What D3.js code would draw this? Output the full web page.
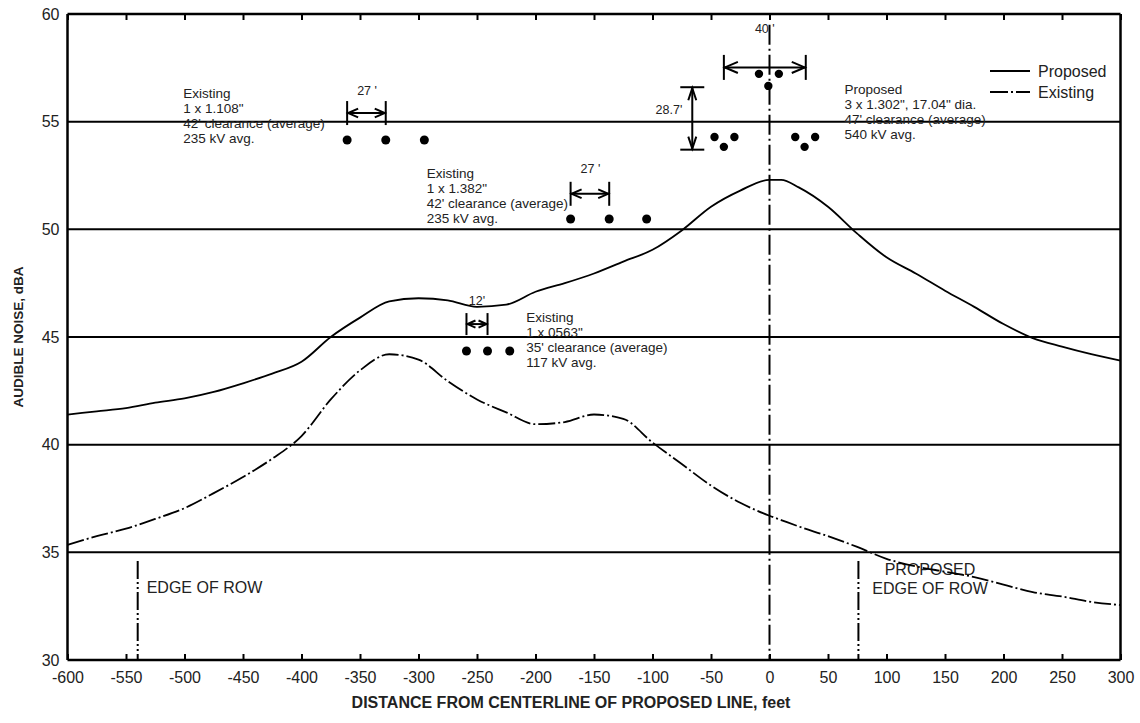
<!DOCTYPE html>
<html>
<head>
<meta charset="utf-8">
<script src="https://cdn.jsdelivr.net/npm/d3@7"></script>
<style>
  html, body { margin: 0; padding: 0; background: #fff; }
  svg { display: block; font-family: "Liberation Sans", Arial, sans-serif; }
</style>
</head>
<body>
<svg id="chart" width="1140" height="723"></svg>
<script>
// Distance from centerline of proposed line (feet) used for both noise profiles
const distance = [-600, -575, -550, -525, -500, -475, -450, -425, -400, -375, -350, -325, -300,
  -275, -250, -225, -200, -175, -150, -125, -100, -75, -50, -25, 0, 10, 25, 50, 75, 100, 125, 150,
  175, 200, 225, 250, 275, 300];

// Audible noise, dBA
const proposedDb = [41.4, 41.55, 41.7, 41.95, 42.15, 42.45, 42.85, 43.3, 43.85, 45.0, 45.9, 46.65, 46.8,
  46.7, 46.4, 46.5, 47.1, 47.5, 47.95, 48.5, 49.05, 49.95, 51.05, 51.8, 52.3, 52.3, 51.95, 51.05, 49.8,
  48.7, 47.95, 47.15, 46.4, 45.6, 44.95, 44.55, 44.2, 43.9];
const existingDb = [35.35, 35.75, 36.1, 36.55, 37.05, 37.75, 38.5, 39.35, 40.4, 42.1, 43.45, 44.2, 43.95,
  42.95, 42.1, 41.5, 40.95, 41.05, 41.4, 41.2, 40.1, 39.1, 38.1, 37.3, 36.7, 36.5, 36.2, 35.75, 35.25,
  34.7, 34.35, 34.1, 33.85, 33.5, 33.15, 32.95, 32.7, 32.55];

// Axis ticks
const xTicks = d3.range(-600, 301, 50);
const yTicks = [30, 35, 40, 45, 50, 55, 60];
const gridValues = [35, 40, 45, 50, 55];

// Conductor positions (feet, dBA scale used as height on the drawing)
const line1108X = [-361, -328, -295];
const line1108Y = [54.15, 54.15, 54.15];
const line1382X = [-170, -137, -105];
const line1382Y = [50.48, 50.48, 50.48];
const line0563X = [-259, -241, -222];
const line0563Y = [44.35, 44.35, 44.35];
const proposedX = [-9, 8, -1, -47, -30, -39, 22, 39, 30];
const proposedY = [57.22, 57.22, 56.66, 54.29, 54.29, 53.83, 54.29, 54.29, 53.83];

// Right-of-way edges and centerline (feet)
const rowEdges = [-540, 76];
const centerline = 0;

// Annotation blocks
const notes = [
  { x: -501, y: 56.1, lines: ["Existing", "1 x 1.108\"", "42' clearance (average)", "235 kV avg."] },
  { x: -293, y: 52.39, lines: ["Existing", "1 x 1.382\"", "42' clearance (average)", "235 kV avg."] },
  { x: -208, y: 45.7, lines: ["Existing", "1 x 0563\"", "35' clearance (average)", "117 kV avg."] },
  { x: 64, y: 56.29, lines: ["Proposed", "3 x 1.302\", 17.04\" dia.", "47' clearance (average)", "540 kV avg."] }
];

const svg = d3.select("#chart");
const x = d3.scaleLinear().domain([-600, 300]).range([67.5, 1120.5]);
const y = d3.scaleLinear().domain([30, 60]).range([660, 14]);
const ink = "#000";
const fmt = d => String(d);

// Horizontal grid lines
svg.append("g").selectAll("line").data(gridValues).join("line")
  .attr("x1", x(-600)).attr("x2", x(300))
  .attr("y1", d => y(d)).attr("y2", d => y(d))
  .attr("stroke", ink).attr("stroke-width", 2);

// Axes: ticks drawn inward on top and bottom
const axisB = d3.axisBottom(x).tickValues(xTicks).tickSize(-6).tickPadding(12).tickFormat(fmt);
const axisT = d3.axisTop(x).tickValues(xTicks).tickSize(-6).tickFormat("");
const axisL = d3.axisLeft(y).tickValues(yTicks).tickSize(0).tickPadding(8).tickFormat(fmt);
const axisR = d3.axisRight(y).tickValues(yTicks).tickSize(0).tickFormat("");

function styleAxis(g) {
  g.select(".domain").attr("stroke", ink).attr("stroke-width", 2.5);
  g.selectAll(".tick line").attr("stroke", ink).attr("stroke-width", 2);
  g.selectAll(".tick text").attr("fill", "#222").style("font-size", "16px")
    .style("font-family", "\"Liberation Sans\", Arial, sans-serif");
}
svg.append("g").attr("transform", `translate(0,${y(30)})`).call(axisB).call(styleAxis)
  .call(g => g.select(".domain").attr("d", `M${x(-600)},0H${x(300)}`));
svg.append("g").attr("transform", `translate(0,${y(60)})`).call(axisT).call(styleAxis)
  .call(g => g.select(".domain").attr("d", `M${x(-600)},0H${x(300)}`));
svg.append("g").attr("transform", `translate(${x(-600)},0)`).call(axisL).call(styleAxis)
  .call(g => g.select(".domain").attr("d", `M0,${y(30)}V${y(60)}`));
svg.append("g").attr("transform", `translate(${x(300)},0)`).call(axisR).call(styleAxis)
  .call(g => g.select(".domain").attr("d", `M0,${y(30)}V${y(60)}`));

// Axis titles
svg.append("text").attr("x", 571).attr("y", 708).attr("text-anchor", "middle")
  .style("font-size", "16px").style("font-weight", "bold").attr("fill", "#222")
  .text("DISTANCE FROM CENTERLINE OF PROPOSED LINE, feet");
svg.append("text").attr("transform", `translate(23,${y(45)}) rotate(-90)`).attr("text-anchor", "middle")
  .style("font-size", "13.5px").style("font-weight", "bold").attr("fill", "#222")
  .text("AUDIBLE NOISE, dBA");

// Centerline and right-of-way edges
const dashDot = "20,4,2,4";
svg.append("line").attr("x1", x(centerline)).attr("x2", x(centerline))
  .attr("y1", y(59.5)).attr("y2", y(30))
  .attr("stroke", ink).attr("stroke-width", 2).attr("stroke-dasharray", dashDot);
svg.append("g").selectAll("line").data(rowEdges).join("line")
  .attr("x1", d => x(d)).attr("x2", d => x(d))
  .attr("y1", y(34.6)).attr("y2", y(30))
  .attr("stroke", ink).attr("stroke-width", 2).attr("stroke-dasharray", "18,3,2,3,2,3");

svg.append("text").attr("x", x(rowEdges[0]) + 9).attr("y", 593).style("font-size", "16px").attr("fill", "#222")
  .text("EDGE OF ROW");
svg.append("text").attr("x", 930).attr("y", 575).attr("text-anchor", "middle").style("font-size", "16px").attr("fill", "#222")
  .text("PROPOSED");
svg.append("text").attr("x", 930).attr("y", 594).attr("text-anchor", "middle").style("font-size", "16px").attr("fill", "#222")
  .text("EDGE OF ROW");

// Noise profiles
const line = d3.line().x(d => x(d[0])).y(d => y(d[1])).curve(d3.curveMonotoneX);
svg.append("path").datum(d3.zip(distance, proposedDb)).attr("d", line)
  .attr("fill", "none").attr("stroke", ink).attr("stroke-width", 1.8);
svg.append("path").datum(d3.zip(distance, existingDb)).attr("d", line)
  .attr("fill", "none").attr("stroke", ink).attr("stroke-width", 1.8).attr("stroke-dasharray", "17,3,2,3");

// Conductors
function conductors(xs, ys, r) {
  svg.append("g").selectAll("circle").data(d3.zip(xs, ys)).join("circle")
    .attr("cx", d => x(d[0])).attr("cy", d => y(d[1])).attr("r", r).attr("fill", ink);
}
conductors(line1108X, line1108Y, 4.5);
conductors(line1382X, line1382Y, 4.5);
conductors(line0563X, line0563Y, 4.5);
conductors(proposedX, proposedY, 4.2);

// Dimension markers
function hDim(x1, x2, yMid, half, head, label, labelX, labelY) {
  const g = svg.append("g").attr("stroke", ink).attr("fill", "none").attr("stroke-width", 2);
  const px1 = x(x1), px2 = x(x2), py = y(yMid);
  g.append("line").attr("x1", px1).attr("x2", px1).attr("y1", py - half).attr("y2", py + half);
  g.append("line").attr("x1", px2).attr("x2", px2).attr("y1", py - half).attr("y2", py + half);
  g.append("line").attr("x1", px1).attr("x2", px2).attr("y1", py).attr("y2", py);
  g.append("path").attr("d", `M${px1 + head},${py - head * 0.4}L${px1 + 1},${py}L${px1 + head},${py + head * 0.4}`);
  g.append("path").attr("d", `M${px2 - head},${py - head * 0.4}L${px2 - 1},${py}L${px2 - head},${py + head * 0.4}`);
  svg.append("text").attr("x", labelX).attr("y", labelY).attr("text-anchor", "middle")
    .style("font-size", "12.5px").attr("fill", "#222").text(label);
}
hDim(line1108X[0], line1108X[1], 55.4, 12, 11, "27 '", x(-344), 95);
hDim(line1382X[0], line1382X[1], 51.65, 12, 11, "27 '", x(-153), 173);
hDim(line0563X[0], line0563X[1], 45.6, 11, 9, "12'", x(-250), 305);
hDim(-39, 31, 57.52, 12.5, 14, "40 '", x(-4), 33);

// Vertical 28.7' clearance marker
(function () {
  const g = svg.append("g").attr("stroke", ink).attr("fill", "none").attr("stroke-width", 2);
  const px = x(-66), yTop = y(56.6), yBot = y(53.7);
  g.append("line").attr("x1", px - 12).attr("x2", px + 12).attr("y1", yTop).attr("y2", yTop);
  g.append("line").attr("x1", px - 12).attr("x2", px + 12).attr("y1", yBot).attr("y2", yBot);
  g.append("line").attr("x1", px).attr("x2", px).attr("y1", yTop).attr("y2", yBot);
  g.append("path").attr("d", `M${px - 4},${yTop + 13}L${px},${yTop + 1}L${px + 4},${yTop + 13}`);
  g.append("path").attr("d", `M${px - 4},${yBot - 13}L${px},${yBot - 1}L${px + 4},${yBot - 13}`);
  svg.append("text").attr("x", px - 10).attr("y", 114).attr("text-anchor", "end")
    .style("font-size", "12.5px").attr("fill", "#222").text("28.7'");
})();

// Text blocks describing each circuit
notes.forEach(n => {
  const t = svg.append("text").attr("x", x(n.x)).attr("y", y(n.y))
    .style("font-size", "13.5px").attr("fill", "#222");
  n.lines.forEach((s, i) => t.append("tspan").attr("x", x(n.x)).attr("dy", i === 0 ? 0 : 15).text(s));
});

// Legend
const legend = [
  { label: "Proposed", dash: null, yy: 71 },
  { label: "Existing", dash: "18,3,2,3", yy: 92 }
];
const lg = svg.append("g");
legend.forEach(l => {
  lg.append("line").attr("x1", 990).attr("x2", 1030).attr("y1", l.yy).attr("y2", l.yy)
    .attr("stroke", ink).attr("stroke-width", 1.8).attr("stroke-dasharray", l.dash);
  lg.append("text").attr("x", 1038).attr("y", l.yy + 6).style("font-size", "16px").attr("fill", "#222").text(l.label);
});
</script>
</body>
</html>
